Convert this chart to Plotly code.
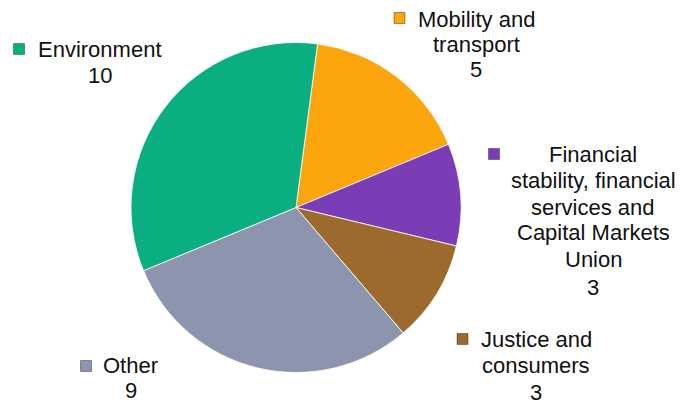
import plotly.graph_objects as go

categories = ["Mobility and transport",
              "Financial stability, financial services and Capital Markets Union",
              "Justice and consumers", "Other", "Environment"]
label_lines = [["Mobility and", "transport"],
               ["Financial", "stability, financial", "services and", "Capital Markets", "Union"],
               ["Justice and", "consumers"], ["Other"], ["Environment"]]
values = [5, 3, 3, 9, 10]
colors = ["#fca50d", "#7b3db6", "#9d6a2e", "#8d94ad", "#0bae80"]

W, H = 686, 405
# label x centre and line baselines (px), marker centres (px)
label_x = [476, 593, 536, 130.5, 99.5]
label_baselines = [[27, 52, 77], [162, 188, 215, 240, 267, 295], [347, 373, 400], [373, 398], [57, 83]]
marker_pos = [(399.5, 18), (494, 154), (462.5, 339), (86, 366), (19, 49)]
FS = 22

fig = go.Figure()
fig.add_trace(go.Pie(
    labels=categories, values=values, sort=False, direction="clockwise",
    rotation=7.5, textinfo="none", hoverinfo="label+value",
    marker=dict(colors=colors, line=dict(color="rgba(255,255,255,0.8)", width=1)),
    domain=dict(x=[131 / W, 461 / W], y=[1 - 373 / H, 1 - 42 / H]),
    showlegend=False,
))

for lines, v, lx, bls, (mx, my), c in zip(label_lines, values, label_x, label_baselines, marker_pos, colors):
    for txt, bl in zip(lines + [str(v)], bls):
        fig.add_annotation(x=lx / W, y=1 - (bl - 0.35 * FS) / H, xref="paper", yref="paper",
                           text=txt, showarrow=False, align="center",
                           xanchor="center", yanchor="middle",
                           font=dict(family="Liberation Sans, Arial", size=FS, color="#111111"))
    s = 5.5
    fig.add_shape(type="rect", xref="paper", yref="paper",
                  x0=(mx - s) / W, x1=(mx + s) / W, y0=1 - (my + s) / H, y1=1 - (my - s) / H,
                  fillcolor=c, line=dict(color="rgba(0,0,0,0.35)", width=1))

fig.update_layout(width=W, height=H, margin=dict(l=0, r=0, t=0, b=0),
                  paper_bgcolor="white", plot_bgcolor="white")
fig.write_html("out.html", config={"displayModeBar": False},
               post_script="document.body.style.margin='0';")
